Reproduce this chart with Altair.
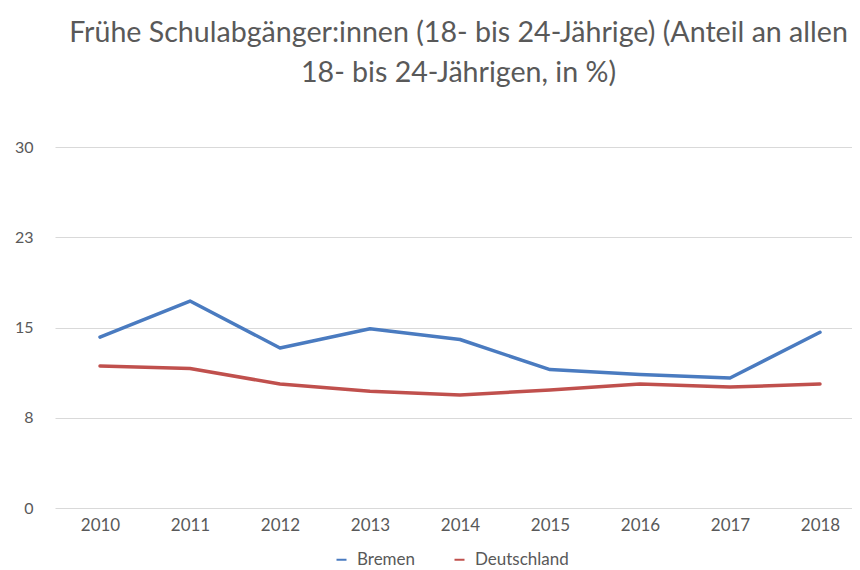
import altair as alt
import pandas as pd

years = [2010, 2011, 2012, 2013, 2014, 2015, 2016, 2017, 2018]
bremen = [14.2, 17.2, 13.3, 14.9, 14.0, 11.5, 11.1, 10.8, 14.6]
deutschland = [11.8, 11.6, 10.3, 9.7, 9.4, 9.8, 10.3, 10.05, 10.3]
series_names = ["Bremen", "Deutschland"]
series_colors = ["#4A7BC0", "#C0504D"]
y_ticks = [0, 7.5, 15, 22.5, 30]
title_lines = ["Frühe Schulabgänger:innen (18- bis 24-Jährige) (Anteil an allen",
               "18- bis 24-Jährigen, in %)"]

rows = []
for y, b, d in zip(years, bremen, deutschland):
    rows.append({"Jahr": y, "Wert": b, "Serie": "Bremen"})
    rows.append({"Jahr": y, "Wert": d, "Serie": "Deutschland"})
df = pd.DataFrame(rows)

FONT = "Lato"
W = 797
H = 361

chart = alt.Chart(df).mark_line(strokeWidth=3.5, strokeJoin="round", strokeCap="round").encode(
    x=alt.X("Jahr:Q",
            scale=alt.Scale(domain=[2009.5, 2009.5 + W / 90.0], nice=False, zero=False),
            axis=alt.Axis(values=years, format="d", grid=False, ticks=False, domain=False,
                          title=None, labelFontSize=17, labelColor="#595959",
                          labelFont=FONT, labelPadding=9)),
    y=alt.Y("Wert:Q",
            scale=alt.Scale(domain=[0, 30], nice=False),
            axis=alt.Axis(values=y_ticks, format=".0f", grid=True, gridColor="#d9d9d9",
                          gridWidth=1, ticks=False, domain=False, title=None,
                          labelFontSize=16, labelColor="#595959", labelFont=FONT,
                          labelPadding=22)),
    color=alt.Color("Serie:N",
                    scale=alt.Scale(domain=series_names, range=series_colors),
                    legend=alt.Legend(orient="none", legendX=278, legendY=404,
                                      direction="horizontal", title=None,
                                      symbolType="stroke", symbolStrokeWidth=2,
                                      symbolSize=100, labelFontSize=17,
                                      labelColor="#595959", labelFont=FONT,
                                      labelOffset=7, columnPadding=34)),
).properties(
    width=W,
    height=H,
    autosize=alt.AutoSizeParams(type="none"),
    padding={"left": 47, "top": 139, "right": 0, "bottom": 62},
    title=alt.TitleParams(text=title_lines, anchor="middle", fontSize=28.6,
                          font=FONT, fontWeight="normal", color="#595959",
                          lineHeight=40, offset=51, dx=5),
).configure(background="white").configure_view(stroke=None)

chart.save("out.html", embed_options={"renderer": "svg", "actions": False})
